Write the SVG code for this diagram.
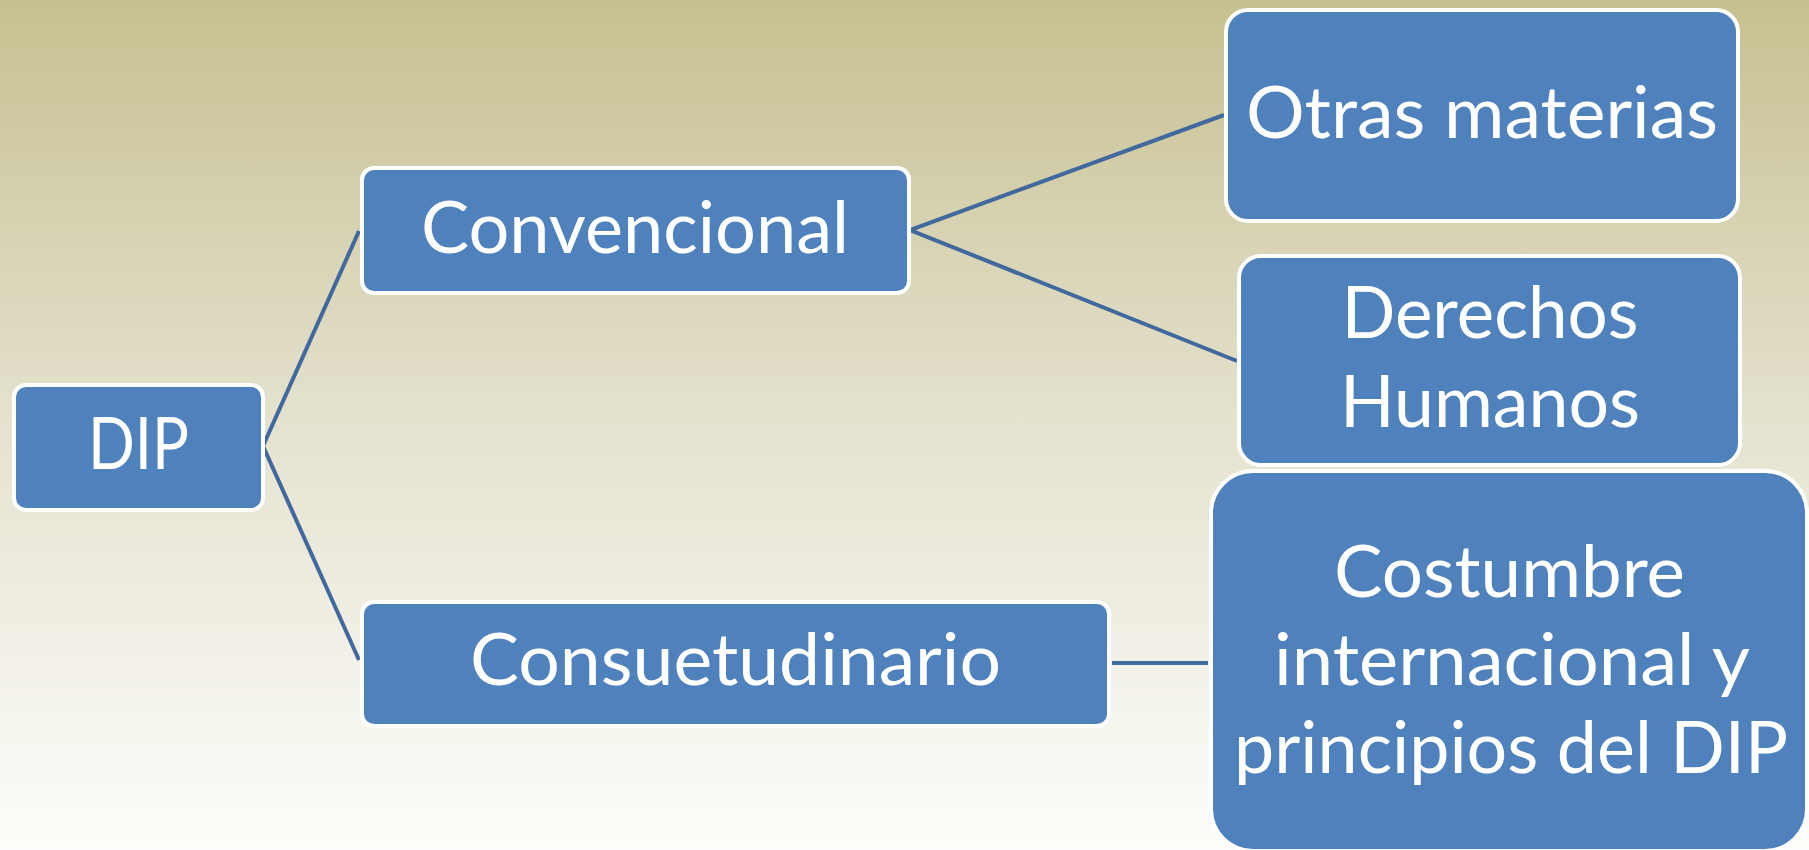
<svg xmlns="http://www.w3.org/2000/svg" width="1809" height="850" viewBox="0 0 1809 850">
<defs>
<linearGradient id="bg" x1="0" y1="0" x2="0" y2="1">
<stop offset="0" stop-color="#c6c090"/>
<stop offset="0.5" stop-color="#e5e2cf"/>
<stop offset="1" stop-color="#fdfdfb"/>
</linearGradient>
<style>
.box{fill:#4f81bd;stroke:#ffffff;stroke-width:4}
.t{font-family:Lato,"Liberation Sans",sans-serif;font-size:71px;fill:#ffffff;text-anchor:middle}
.c{stroke:#41699e;stroke-width:4;fill:none}
</style>
</defs>
<rect x="0" y="0" width="1809" height="850" fill="url(#bg)"/>
<g id="connectors">
<polyline class="c" points="359,231 263,446 359,660"/>
<polyline class="c" points="1224,115 910,230 1237,361"/>
<line class="c" x1="1112" y1="663" x2="1208" y2="663" stroke-width="5"/>
</g>
<g id="dip">
<rect class="box" x="14" y="385" width="249" height="125" rx="12"/>
<text class="t" x="138.5" y="469" textLength="101" lengthAdjust="spacingAndGlyphs">DIP</text>
</g>
<g id="convencional">
<rect class="box" x="362" y="168" width="547" height="125" rx="12"/>
<text class="t" x="635" y="253" textLength="428" lengthAdjust="spacingAndGlyphs">Convencional</text>
</g>
<g id="consuetudinario">
<rect class="box" x="362" y="602" width="747" height="124" rx="12"/>
<text class="t" x="735.5" y="685" textLength="531" lengthAdjust="spacingAndGlyphs">Consuetudinario</text>
</g>
<g id="otras">
<rect class="box" x="1226" y="10" width="512" height="211" rx="22"/>
<text class="t" x="1482" y="138" textLength="472" lengthAdjust="spacingAndGlyphs">Otras materias</text>
</g>
<g id="derechos">
<rect class="box" x="1239" y="256" width="501" height="209" rx="22"/>
<text class="t" x="1490" y="338" textLength="297" lengthAdjust="spacingAndGlyphs">Derechos</text>
<text class="t" x="1490" y="427" textLength="300" lengthAdjust="spacingAndGlyphs">Humanos</text>
</g>
<g id="costumbre">
<rect class="box" x="1211" y="471" width="596" height="380" rx="42"/>
<text class="t" x="1509.5" y="597" textLength="351" lengthAdjust="spacingAndGlyphs">Costumbre</text>
<text class="t" x="1512" y="685" textLength="476" lengthAdjust="spacingAndGlyphs">internacional y</text>
<text class="t" x="1511" y="773" textLength="554" lengthAdjust="spacingAndGlyphs">principios del DIP</text>
</g>
</svg>
